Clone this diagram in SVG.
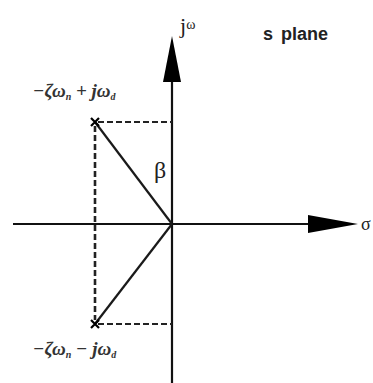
<svg xmlns="http://www.w3.org/2000/svg" width="373" height="383" viewBox="0 0 373 383">
<style>
.axis{stroke:#111;stroke-width:2.2;fill:none}
.solid{stroke:#1a1a1a;stroke-width:2.2;fill:none}
.dash{stroke:#222;stroke-width:2;stroke-dasharray:6,3;fill:none}
.dashv{stroke:#222;stroke-width:2.6;stroke-dasharray:6,3;fill:none}
.head{fill:#000}
.mark{stroke:#000;stroke-width:2.2}
.math{font-family:'Liberation Serif','Times New Roman',serif;font-style:italic;font-weight:bold;font-size:19px;fill:#333}
.sub{font-size:10px}
</style>
<rect width="373" height="383" fill="#fff"/>
<g id="connectors">
<line class="axis" x1="13" y1="224" x2="312" y2="224"/>
<polygon class="head" points="308,215 358,224 308,233"/>
<line class="axis" x1="172" y1="80" x2="172" y2="383"/>
<polygon class="head" points="172,36 181,82 163,82"/>
<line class="dash" x1="98" y1="122" x2="172" y2="122"/>
<line class="dashv" x1="95" y1="126" x2="95" y2="320"/>
<line class="dash" x1="98" y1="324" x2="172" y2="324"/>
<line class="solid" x1="95" y1="122" x2="172" y2="224"/>
<line class="solid" x1="95" y1="324" x2="172" y2="224"/>
</g>
<g id="pole-upper">
<path class="mark" d="M91,118 L99,126 M99,118 L91,126"/>
<text class="math" x="33" y="97">−ζω<tspan class="sub" dy="3">n</tspan><tspan dy="-3"> + jω</tspan><tspan class="sub" dy="3">d</tspan></text>
</g>
<g id="pole-lower">
<path class="mark" d="M91,320 L99,328 M99,320 L91,328"/>
<text class="math" x="33" y="355">−ζω<tspan class="sub" dy="3">n</tspan><tspan dy="-3"> − jω</tspan><tspan class="sub" dy="3">d</tspan></text>
</g>
<g id="beta">
<text x="154" y="178" font-family="'Liberation Serif',serif" font-size="24" fill="#222">β</text>
</g>
<g id="labels">
<text x="180" y="33" font-family="'Liberation Serif',serif" font-size="22" fill="#222">j<tspan font-size="14" dy="-4">ω</tspan></text>
<text x="263" y="40" font-family="'Liberation Sans',sans-serif" font-size="18" font-weight="bold" fill="#222" word-spacing="3">s plane</text>
<text x="361" y="230" font-family="'Liberation Serif',serif" font-size="18" fill="#222">σ</text>
</g>
</svg>
